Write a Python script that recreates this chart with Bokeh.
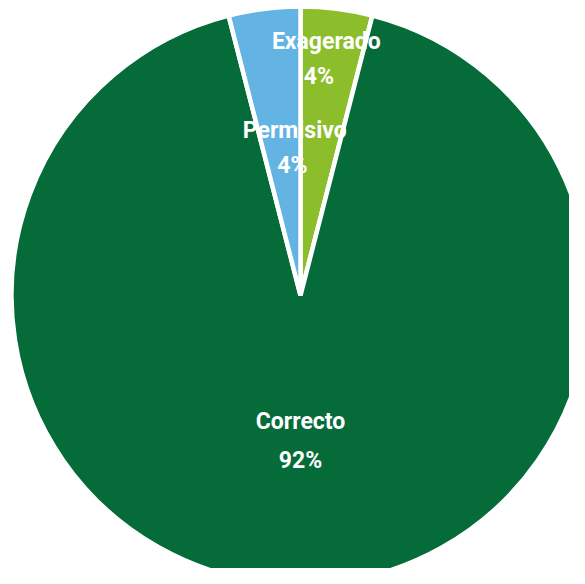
import numpy as np
from bokeh.plotting import figure
from bokeh.models import ColumnDataSource
from bokeh.core.properties import value
from bokeh.embed import file_html
from bokeh.resources import INLINE

# Data (clockwise from 12 o'clock)
categories = ["Exagerado", "Correcto", "Permisivo"]
percents = [4, 92, 4]
colors = ["#8BBE2A", "#046B39", "#63B3E3"]

W, H = 569, 568
p = figure(width=W, height=H, x_range=(0, W), y_range=(0, H),
           output_backend="svg", toolbar_location=None, min_border=0)
p.axis.visible = False
p.grid.visible = False
p.outline_line_color = None
p.background_fill_color = "white"
p.border_fill_color = "white"

cx, cy, r = 300, H - 295, 289
vals = np.array(percents, dtype=float)
frac = vals / vals.sum()
cum = np.concatenate([[0], np.cumsum(frac)])
start = np.pi / 2 - cum[1:] * 2 * np.pi
end = np.pi / 2 - cum[:-1] * 2 * np.pi

src = ColumnDataSource(dict(start=start, end=end, color=colors, cat=categories))
p.wedge(x=cx, y=cy, radius=r, start_angle="start", end_angle="end",
        fill_color="color", line_color="white", line_width=4.5, source=src)

# label placement (radius fraction, angle deg) per category
label_pos = {"Exagerado": (0.883, 84.2), "Correcto": (0.435, -90.0), "Permisivo": (0.572, 92.0)}
pct_pos = {"Exagerado": (0.762, 85.2), "Correcto": (0.572, -90.0), "Permisivo": (0.45, 93.6)}
lx, ly, px_, py_, lt, pt = [], [], [], [], [], []
for c, v in zip(categories, percents):
    rr, a = label_pos[c]
    lx.append(cx + rr * r * np.cos(np.radians(a)))
    ly.append(cy + rr * r * np.sin(np.radians(a)))
    rr, a = pct_pos[c]
    px_.append(cx + rr * r * np.cos(np.radians(a)))
    py_.append(cy + rr * r * np.sin(np.radians(a)))
    lt.append(c)
    pt.append(f"{v}%")

font = value("Roboto")
p.text(x=lx, y=ly, text=lt, text_font=font, text_font_size="23px",
       text_font_style="bold",
       text_color="white", text_align="center", text_baseline="middle")
p.text(x=px_, y=py_, text=pt, text_font=font, text_font_size="23px",
       text_font_style="bold",
       text_color="white", text_align="center", text_baseline="middle")

open("out.html", "w").write(file_html(p, INLINE))
